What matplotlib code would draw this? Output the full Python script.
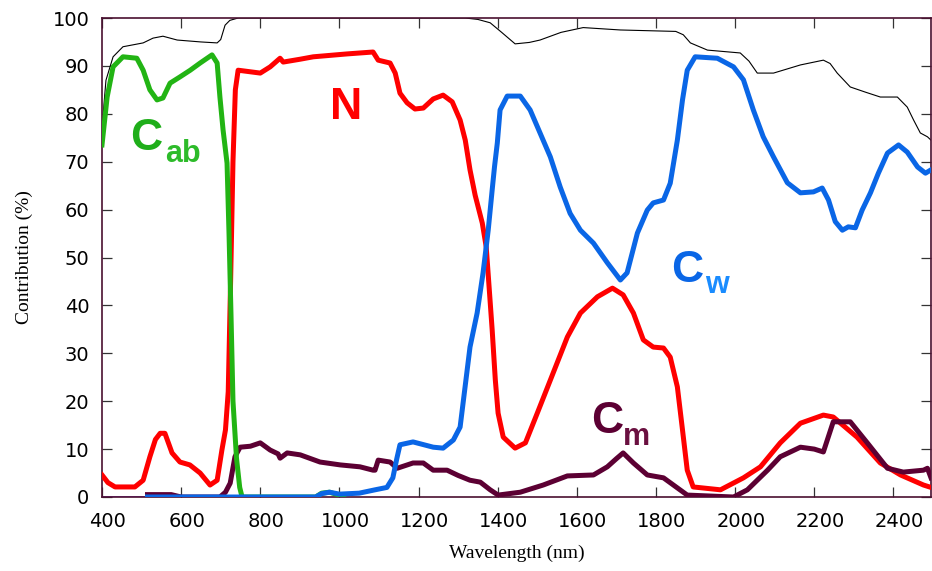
import matplotlib
matplotlib.use("Agg")
import matplotlib.pyplot as plt
from matplotlib.transforms import ScaledTranslation

# total contribution (thin black)
total_wl = [400, 403, 410, 428, 453, 504, 529, 554, 590, 650, 691, 700, 711, 723, 744, 1300, 1318,
            1350, 1381, 1410, 1444, 1480, 1507, 1560, 1616, 1710, 1803, 1850, 1869, 1887, 1930, 2013,
            2035, 2056, 2097, 2165, 2223, 2240, 2258, 2291, 2330, 2367, 2410, 2435, 2451, 2468, 2486,
            2495]
total_val = [76, 80, 87, 91.9, 94, 94.8, 95.8, 96.2, 95.4, 95.0, 94.8, 95.5, 98.5, 99.5, 100, 100, 100,
             99.7, 99, 97, 94.6, 94.9, 95.4, 97, 98, 97.5, 97.3, 97.2, 96.5, 94.8, 93.3, 92.7,
             91, 88.5, 88.5, 90.2, 91.2, 90.5, 88.5, 85.6, 84.5, 83.5, 83.5, 81.4, 78.7, 76, 75.2,
             74.5]

# Cab (green)
cab_wl = [400, 413, 428, 453, 488, 504, 521, 539, 554, 572, 597, 623, 648, 678, 691, 698, 706, 716,
          721, 726, 731, 740, 748, 754, 800, 940, 955, 975, 995, 1010]
cab_val = [73.5, 83.5, 89.8, 91.9, 91.6, 89.1, 85, 82.9, 83.3, 86.4, 87.7, 89.1, 90.6, 92.3, 90.6,
           83.5, 76.6, 69.7, 55, 38, 20, 8, 2, 0, 0, 0, 0.8, 1, 0.5, 0]

# N (red)
n_wl = [400, 415, 433, 483, 504, 521, 535, 547, 559, 577, 597, 622, 648, 673, 691, 703, 712, 719, 725,
        731, 737, 744, 800, 825, 850, 858, 901, 934, 1019, 1085, 1098, 1128, 1141, 1153, 1171, 1191,
        1212, 1237, 1262, 1285, 1305, 1318, 1330, 1343, 1361, 1371, 1386, 1394, 1401, 1414, 1444, 1470,
        1500, 1533, 1576, 1609, 1652, 1690, 1717, 1743, 1768, 1793, 1819, 1836, 1854, 1867, 1879, 1894,
        1963, 2021, 2064, 2114, 2165, 2223, 2248, 2308, 2367, 2418, 2476, 2495]
n_val = [4.6, 3, 2.1, 2.1, 3.5, 8.4, 12, 13.3, 13.3, 9.2, 7.3, 6.7, 5, 2.5, 3.5, 9.8, 14, 22, 45,
         70, 85, 89.1, 88.5, 89.8, 91.6, 90.8, 91.4, 91.9, 92.5, 92.9, 91.2, 90.6, 88.5, 84.3, 82.3, 81,
         81.2, 83.1, 83.9, 82.5, 78.7, 74.5, 68.3, 63, 57.2, 52.2, 34.9, 24.4, 17.5, 12.5, 10.2, 11.3,
         17.5, 24.4, 33.4, 38.4, 41.8, 43.6, 42.2, 38.4, 32.8, 31.3, 31.1, 29.2, 23, 14, 5.6, 2.1,
         1.5, 4, 6.3, 11.3, 15.4, 17.1, 16.7, 12.5, 7.1, 4.6, 2.5, 2]

# Cw (blue)
cw_wl = [515, 940, 955, 975, 1000, 1050, 1090, 1120, 1135, 1145, 1153, 1186, 1237, 1262, 1288, 1305,
         1330, 1348, 1363, 1376, 1386, 1392, 1399, 1406, 1424, 1457, 1482, 1507, 1533, 1558, 1583,
         1609, 1642, 1677, 1710, 1727, 1753, 1778, 1793, 1819, 1836, 1854, 1867, 1879, 1899, 1955,
         1996, 2021, 2046, 2071, 2097, 2132, 2165, 2198, 2220, 2236, 2253, 2271, 2286, 2304, 2321,
         2342, 2362, 2385, 2413, 2435, 2461, 2481, 2495]
cw_val = [0, 0, 0.7, 1, 0.6, 0.8, 1.5, 2, 4, 8, 10.9, 11.5, 10.4, 10.2, 11.9, 14.6,
          31.3, 38.4, 46.8, 55.7, 64.1, 69, 73.9, 80.8, 83.7, 83.7, 80.8, 76, 71, 64.7, 59.2,
          55.7, 53, 48.9, 45.3, 46.8, 55.1, 59.9, 61.4, 62, 65.5, 74.5, 82.9, 89.1, 91.9, 91.6,
          89.8, 87.1, 80.8, 75.2, 71, 65.6, 63.5, 63.7, 64.5, 62, 57.5, 55.7, 56.4, 56.2, 59.9,
          63.5, 67.6, 71.8, 73.5, 72, 68.9, 67.6, 68.3]

# Cm (maroon)
cm_wl = [515, 575, 600, 690, 698, 712, 724, 736, 749, 775, 800, 825, 845, 850, 868, 901, 951, 1002,
         1052, 1085, 1090, 1098, 1128, 1146, 1186, 1212, 1237, 1272, 1300, 1330, 1356, 1381, 1401,
         1457, 1515, 1576, 1642, 1677, 1700, 1717, 1743, 1778, 1819, 1854, 1879, 1996,
         2031, 2082, 2114, 2165, 2200, 2223, 2248, 2291, 2334, 2385, 2425, 2476, 2486, 2495]
cm_val = [0.5, 0.5, 0, 0, 0, 1, 2.9, 8.4, 10.4, 10.6, 11.3, 9.8, 9, 8.1, 9.2, 8.8, 7.3, 6.7,
          6.3, 5.6, 5.6, 7.7, 7.3, 6, 7.1, 7.1, 5.6, 5.6, 4.5, 3.5, 3.1, 1.5, 0.4,
          1, 2.5, 4.4, 4.6, 6.3, 8, 9.2, 7.1, 4.6, 4, 1.9, 0.4, 0,
          1.5, 5.6, 8.4, 10.4, 10, 9.4, 15.7, 15.7, 11.3, 6, 5.2, 5.6, 6, 4]

base_wl = [400, 520]
base_val = [0, 0]

X_TICKS = list(range(400, 2401, 200))
Y_TICKS = list(range(0, 101, 10))

RED = "#ff0000"
GREEN = "#22b414"
BLUE = "#0a66e6"
MAROON = "#5c0033"
SPINE = "#4a1030"

fig = plt.figure(figsize=(9.32, 5.71), dpi=100)
ax = fig.add_axes([102 / 932, 1 - 497 / 571, 829 / 932, 479 / 571])

ax.plot(total_wl, total_val, color="black", lw=0.8, zorder=2)
ax.plot(base_wl, base_val, color="#8a2be2", lw=1.2, zorder=2)
ax.plot(n_wl, n_val, color=RED, lw=3.6, zorder=3, solid_joinstyle="round")
ax.plot(cm_wl, cm_val, color=MAROON, lw=3.6, zorder=4, solid_joinstyle="round")
ax.plot(cab_wl, cab_val, color=GREEN, lw=3.6, zorder=5, solid_joinstyle="round")
ax.plot(cw_wl, cw_val, color=BLUE, lw=3.6, zorder=6, solid_joinstyle="round")

ax.set_xlim(400, 2495)
ax.set_ylim(0, 100)
ax.set_xticks(X_TICKS)
ax.set_yticks(Y_TICKS)
ax.tick_params(direction="in", length=7, width=0.9, color="#333333",
               top=True, right=True, labelsize=14, pad=9)
ax.tick_params(axis="x", pad=11)
for lab in ax.get_xticklabels() + ax.get_yticklabels():
    lab.set_family("DejaVu Sans")
for lab in ax.get_xticklabels():
    lab.set_transform(lab.get_transform() + ScaledTranslation(6 / 100, 0, fig.dpi_scale_trans))
for sp in ax.spines.values():
    sp.set_color(SPINE)
    sp.set_linewidth(1.2)

ax.set_xlabel("Wavelength (nm)", family="Liberation Serif", fontsize=14, labelpad=10)
ax.set_ylabel("Contribution (%)", family="Liberation Serif", fontsize=14, labelpad=14)

bold = dict(family="Liberation Sans", weight="bold")
ax.text(470, 72.4, "C", color="#1fae1a", fontsize=32, ha="left", va="baseline", **bold)
ax.text(560, 70.0, "ab", color="#2dbb2a", fontsize=22, ha="left", va="baseline", **bold)
ax.text(975, 78.9, "N", color=RED, fontsize=32, ha="left", va="baseline", **bold)
ax.text(1838, 44.9, "C", color=BLUE, fontsize=32, ha="left", va="baseline", **bold)
ax.text(1925, 42.5, "w", color="#1a8cff", fontsize=22, ha="left", va="baseline", **bold)
ax.text(1635, 13.4, "C", color=MAROON, fontsize=32, ha="left", va="baseline", **bold)
ax.text(1717, 10.9, "m", color="#6a1040", fontsize=22, ha="left", va="baseline", **bold)

fig.savefig("out.png", dpi=100)
